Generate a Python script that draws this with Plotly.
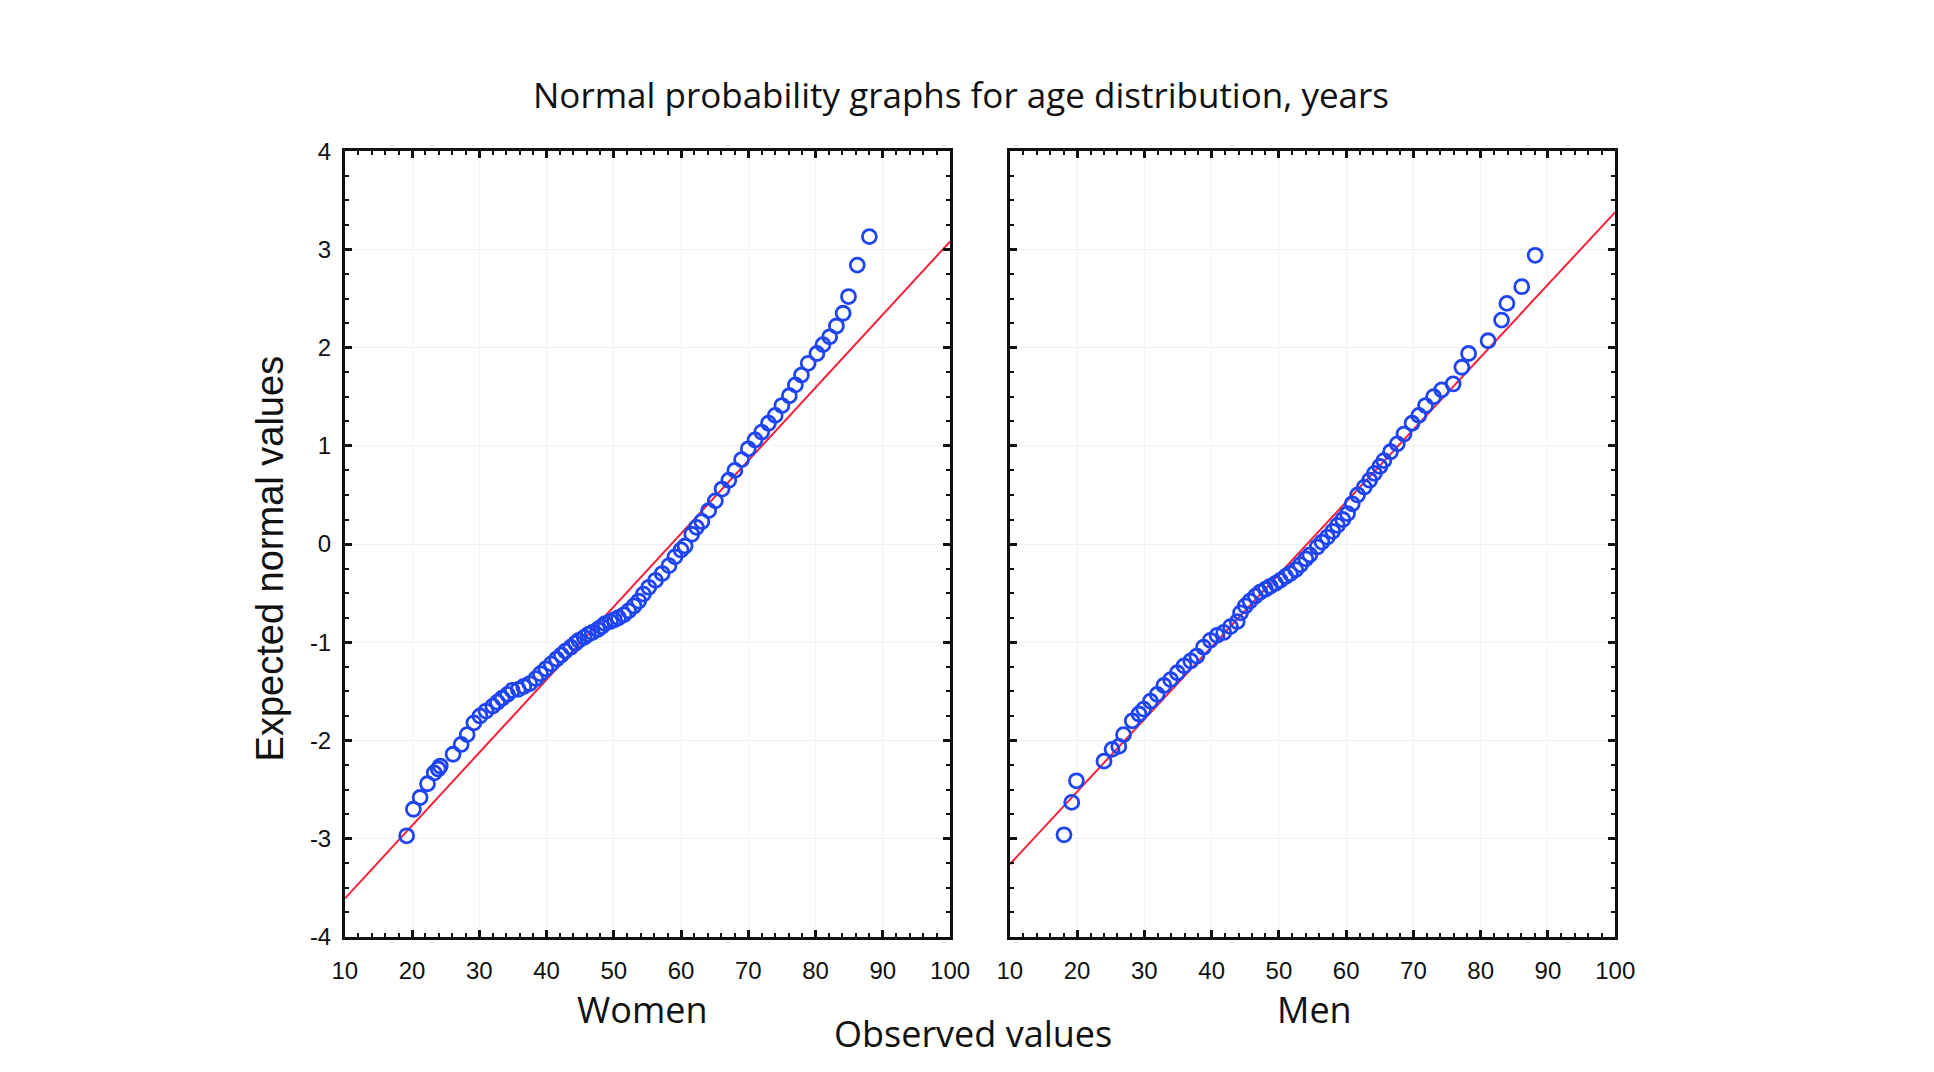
import plotly.graph_objects as go

# ---------------- data ----------------
women_age = [19.2, 20.2, 21.2, 22.3, 23.3, 23.9, 24.2, 26.1, 27.3, 28.2, 29.2, 30.1, 31.0, 32.0,
             32.7, 33.4, 34.2, 34.9, 35.8, 36.6, 37.5, 38.4, 39.1, 39.9, 40.7, 41.5, 42.2, 42.8,
             43.6, 44.3, 44.8, 45.6, 46.2, 46.8, 47.6, 48.2, 48.7, 49.5, 50.1, 50.7, 51.5, 52.2,
             53.0, 53.7, 54.4, 55.2, 56.2, 57.2, 58.2, 59.1, 60.0, 60.6, 61.6, 62.3, 63.1, 64.1,
             65.1, 66.1, 67.1, 68.0, 69.0, 70.0, 71.0, 72.0, 73.0, 74.0, 75.0, 76.1, 77.0, 77.9,
             78.9, 80.2, 81.1, 82.1, 83.1, 84.1, 84.9, 86.2, 88.0]
women_z = [-2.97, -2.70, -2.58, -2.44, -2.33, -2.29, -2.26, -2.14, -2.04, -1.94, -1.82, -1.75, -1.70, -1.65,
           -1.61, -1.57, -1.53, -1.49, -1.48, -1.45, -1.42, -1.37, -1.32, -1.27, -1.22, -1.17, -1.13, -1.09,
           -1.05, -1.01, -0.98, -0.95, -0.92, -0.90, -0.87, -0.84, -0.81, -0.79, -0.77, -0.75, -0.72, -0.68,
           -0.63, -0.58, -0.51, -0.44, -0.37, -0.30, -0.22, -0.13, -0.06, -0.02, 0.10, 0.17, 0.23, 0.34,
           0.44, 0.56, 0.65, 0.75, 0.86, 0.97, 1.06, 1.14, 1.23, 1.31, 1.41, 1.51, 1.62, 1.72,
           1.84, 1.94, 2.03, 2.11, 2.22, 2.35, 2.52, 2.84, 3.13]

men_age = [18.05, 19.2, 19.9, 24.0, 25.2, 26.2, 26.9, 28.2, 29.2, 29.9, 30.9, 31.9, 32.9, 33.9,
           34.9, 35.9, 36.9, 37.8, 38.8, 39.8, 40.8, 41.8, 42.8, 43.8, 44.3, 45.0, 45.7, 46.5,
           47.2, 48.0, 48.7, 49.5, 50.2, 51.0, 51.7, 52.5, 53.2, 54.0, 54.6, 55.7, 56.4, 57.2,
           58.0, 58.7, 59.5, 60.2, 60.9, 61.7, 62.7, 63.5, 64.2, 65.0, 65.6, 66.6, 67.6, 68.6,
           69.8, 70.8, 71.8, 73.0, 74.2, 75.9, 77.2, 78.2, 81.1, 83.1, 83.9, 86.1, 88.1]
men_z = [-2.96, -2.63, -2.41, -2.21, -2.09, -2.06, -1.94, -1.80, -1.73, -1.68, -1.60, -1.53, -1.44, -1.38,
         -1.31, -1.24, -1.19, -1.14, -1.05, -0.98, -0.93, -0.90, -0.84, -0.79, -0.70, -0.63, -0.58, -0.53,
         -0.49, -0.46, -0.43, -0.40, -0.37, -0.33, -0.30, -0.26, -0.21, -0.15, -0.11, -0.03, 0.02, 0.07,
         0.13, 0.19, 0.25, 0.31, 0.41, 0.50, 0.58, 0.65, 0.72, 0.79, 0.85, 0.94, 1.02, 1.12,
         1.23, 1.31, 1.41, 1.50, 1.57, 1.63, 1.80, 1.94, 2.07, 2.28, 2.45, 2.62, 2.94]

# fitted reference lines (end points at x = 10 and x = 100)
line_x = [10, 100]
women_line_z = [-3.61, 3.08]
men_line_z = [-3.26, 3.38]

x_ticks = [10, 20, 30, 40, 50, 60, 70, 80, 90, 100]
x_tick_labels = ["10", "20", "30", "40", "50", "60", "70", "80", "90", "100"]
y_ticks = [-4, -3, -2, -1, 0, 1, 2, 3, 4]
y_tick_labels = ["-4", "-3", "-2", "-1", "0", "1", "2", "3", "4"]

title_text = "Normal probability graphs for age distribution, years"
panel_names = ["Women", "Men"]
x_title = "Observed values"
y_title = "Expected normal values"

# ---------------- figure ----------------
BLUE = "#1f45f2"
RED = "#f5223a"
marker = dict(symbol="circle-open", size=14, color=BLUE, line=dict(width=2.8, color=BLUE))

fig = go.Figure()
fig.add_trace(go.Scatter(x=line_x, y=women_line_z, mode="lines", line=dict(color=RED, width=2),
                         xaxis="x", yaxis="y", showlegend=False, hoverinfo="skip"))
fig.add_trace(go.Scatter(x=women_age, y=women_z, mode="markers", marker=marker,
                         xaxis="x", yaxis="y", showlegend=False, name="Women"))
fig.add_trace(go.Scatter(x=line_x, y=men_line_z, mode="lines", line=dict(color=RED, width=2),
                         xaxis="x2", yaxis="y2", showlegend=False, hoverinfo="skip"))
fig.add_trace(go.Scatter(x=men_age, y=men_z, mode="markers", marker=marker,
                         xaxis="x2", yaxis="y2", showlegend=False, name="Men"))

tickfont = dict(family="Liberation Sans, Arial, sans-serif", size=24, color="#111")
common_x = dict(range=[10, 100], tickvals=x_ticks, ticktext=x_tick_labels, showline=True,
                linecolor="#111", linewidth=2.5,
                mirror="ticks", ticks="inside", ticklen=7, tickwidth=2.5, tickcolor="#111",
                minor=dict(dtick=2, ticks="inside", ticklen=4, tickwidth=1.5, tickcolor="#111", showgrid=False),
                showgrid=True, gridcolor="#f1f1f1", gridwidth=1, zeroline=False, tickfont=tickfont,
                ticklabelstandoff=10, fixedrange=True)
common_y = dict(range=[-4, 4], tickvals=y_ticks, ticktext=y_tick_labels, showline=True,
                linecolor="#111", linewidth=2.5,
                mirror="ticks", ticks="inside", ticklen=7, tickwidth=2.5, tickcolor="#111",
                minor=dict(dtick=0.25, ticks="inside", ticklen=4, tickwidth=1.5, tickcolor="#111", showgrid=False),
                showgrid=True, gridcolor="#f1f1f1", gridwidth=1, zeroline=False, tickfont=tickfont,
                ticklabelstandoff=6, fixedrange=True)

W, H = 1934, 1072
ytop, ybot = 1 - 132.5 / H, 1 - 938.6 / H
label_font = dict(family="Open Sans, sans-serif", size=36, color="#111")

fig.update_layout(
    width=W, height=H, paper_bgcolor="white", plot_bgcolor="white",
    margin=dict(l=0, r=0, t=0, b=0),
    xaxis=dict(domain=[329.4 / W, 945.2 / W], anchor="y", **common_x),
    yaxis=dict(domain=[ybot, ytop], anchor="x", **common_y),
    xaxis2=dict(domain=[1006 / W, 1621.9 / W], anchor="y2", **common_x),
    yaxis2=dict(domain=[ybot, ytop], anchor="x2", showticklabels=False, **common_y),
    annotations=[
        dict(text=title_text, x=956.6 / W, y=1 - 74 / H, xref="paper", yref="paper", showarrow=False,
             xanchor="center", yanchor="middle", font=dict(family="Open Sans, sans-serif", size=35, color="#111")),
        dict(text=panel_names[0], x=632.4 / W, y=1 - 1013 / H, xref="paper", yref="paper", showarrow=False,
             xanchor="center", yanchor="middle", font=label_font),
        dict(text=panel_names[1], x=1315.8 / W, y=1 - 1013 / H, xref="paper", yref="paper", showarrow=False,
             xanchor="center", yanchor="middle", font=label_font),
        dict(text=x_title, x=969 / W, y=1 - 1038 / H, xref="paper", yref="paper", showarrow=False,
             xanchor="center", yanchor="middle", font=label_font),
        dict(text=y_title, x=253 / W, y=1 - 550.6 / H, xref="paper", yref="paper", showarrow=False,
             textangle=-90, xanchor="center", yanchor="middle",
             font=dict(family="Liberation Sans, Arial, sans-serif", size=38, color="#111")),
    ],
)

fig.write_html("out.html")
